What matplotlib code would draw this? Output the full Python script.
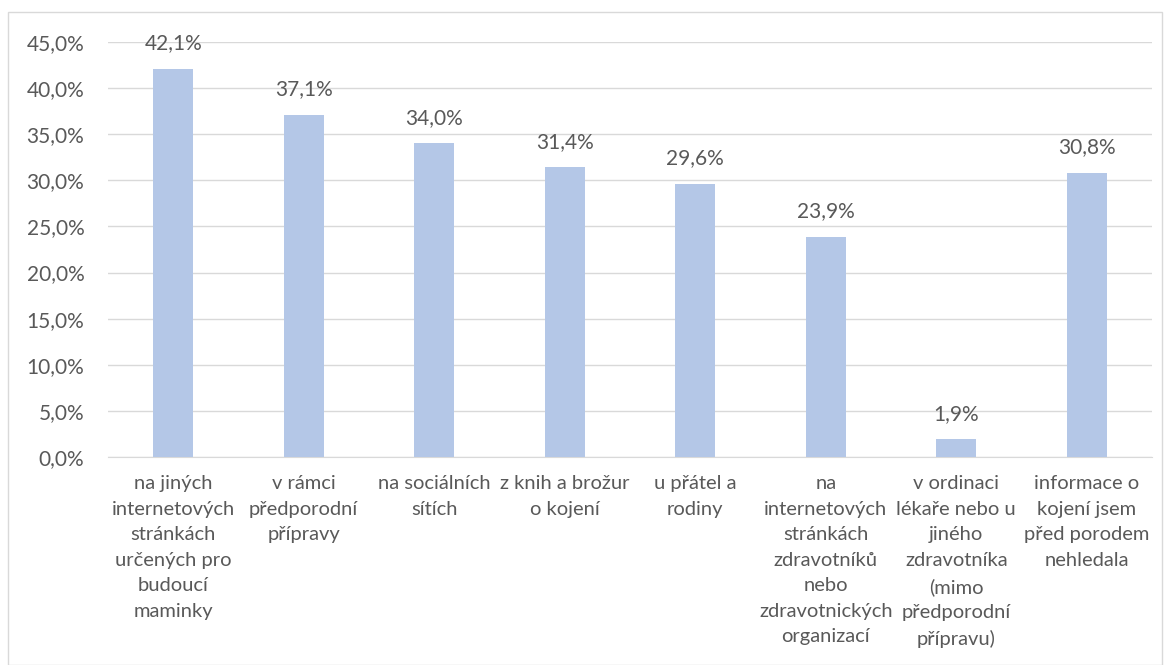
import matplotlib
matplotlib.use("Agg")
import matplotlib.pyplot as plt
from matplotlib.patches import Rectangle
from matplotlib.ticker import FuncFormatter

categories = [
    "na jiných\ninternetových\nstránkách\nurčených pro\nbudoucí\nmaminky",
    "v rámci\npředporodní\npřípravy",
    "na sociálních\nsítích",
    "z knih a brožur\no kojení",
    "u přátel a\nrodiny",
    "na\ninternetových\nstránkách\nzdravotníků\nnebo\nzdravotnických\norganizací",
    "v ordinaci\nlékaře nebo u\njiného\nzdravotníka\n(mimo\npředporodní\npřípravu)",
    "informace o\nkojení jsem\npřed porodem\nnehledala",
]
values = [42.1, 37.1, 34.0, 31.4, 29.6, 23.9, 1.9, 30.8]
yticks = [0, 5, 10, 15, 20, 25, 30, 35, 40, 45]

plt.rcParams['font.family'] = ['Lato', 'DejaVu Sans']
text_color = "#595959"

W, H = 1170, 665
fig = plt.figure(figsize=(W / 100, H / 100), dpi=100)
ax = fig.add_axes([108 / W, 1 - 457 / H, (1152 - 108) / W, (457 - 42) / H])

x = range(len(values))
ax.bar(x, values, width=0.31, color="#B4C7E7", zorder=3)
for xi, v in zip(x, values):
    ax.text(xi, v + 2.8, f"{v:.1f}%".replace(".", ","), ha="center", va="center",
            fontsize=15, color=text_color)

ax.set_ylim(0, 45)
ax.set_xlim(-0.5, len(values) - 0.5)
ax.set_yticks(yticks)
ax.yaxis.set_major_formatter(FuncFormatter(lambda v, p: f"{v:.1f}%".replace(".", ",")))
ax.set_xticks(list(x))
ax.set_xticklabels(categories, fontsize=14.5, color=text_color, linespacing=1.61, va="top")
ax.tick_params(axis="y", labelsize=15, colors=text_color, length=0, pad=17)
ax.tick_params(axis="x", length=0, pad=13)
ax.grid(axis="y", color="#D9D9D9", linewidth=1, zorder=0)
for s in ["top", "right", "left"]:
    ax.spines[s].set_visible(False)
ax.spines["bottom"].set_color("#D9D9D9")

fig.patches.append(Rectangle((8 / W, 0), (1162 - 8) / W, 1 - 12 / H, transform=fig.transFigure,
                             fill=False, edgecolor="#D9D9D9", linewidth=1))

fig.savefig("out.png", dpi=100)
